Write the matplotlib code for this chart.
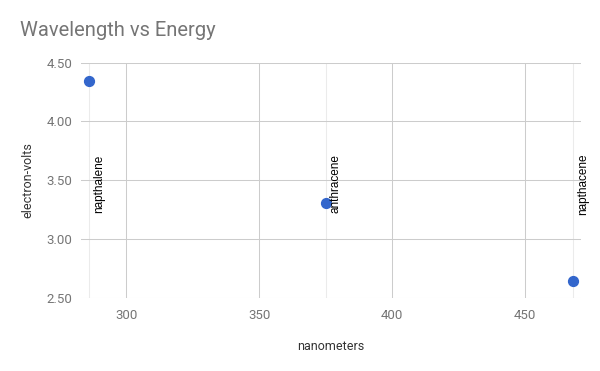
import matplotlib.pyplot as plt

# wavelength (nm) vs energy (eV)
names = ['napthalene', 'anthracene', 'napthacene']
wavelength = [286, 375, 468]
energy = [4.34, 3.31, 2.64]
x_ticks = [300, 350, 400, 450]
y_ticks = [2.50, 3.00, 3.50, 4.00, 4.50]

plt.rcParams['font.family'] = ['Roboto', 'DejaVu Sans']

fig = plt.figure(figsize=(6, 3.71), dpi=100)
ax = fig.add_axes([0.135, 0.1976, 0.833, 0.6334])

ax.set_xlim(283, 471)
ax.set_ylim(2.5, 4.5)
ax.set_xticks(x_ticks)
ax.set_yticks(y_ticks)
ax.set_yticklabels([f'{v:.2f}' for v in y_ticks])

ax.grid(True, color='#cccccc', linewidth=0.75)
ax.set_axisbelow(True)
for x in wavelength:
    ax.axvline(x, color='#ebebeb', linewidth=0.75, zorder=0.5)

for s in ax.spines.values():
    s.set_visible(False)
ax.tick_params(axis='both', length=0, labelsize=9.5, colors='#757575')
ax.tick_params(axis='x', pad=8)
ax.tick_params(axis='y', pad=6)

ax.scatter(wavelength, energy, s=50, color='#3366cc', zorder=3, clip_on=False)

for n, x in zip(names, wavelength):
    ax.annotate(n, xy=(x, 0.484), xycoords=('data', 'axes fraction'),
                xytext=(7.5, 0), textcoords='offset points',
                rotation=90, ha='center', va='center',
                fontsize=8.5, family=['Liberation Sans', 'DejaVu Sans'],
                color='black', annotation_clip=False)

ax.set_xlabel('nanometers', fontsize=9, color='#333333', labelpad=13)
ax.set_ylabel('electron-volts', fontsize=9, color='#333333', labelpad=9)

fig.text(20 / 600, 1 - 31 / 371, 'Wavelength vs Energy', fontsize=14.5,
         color='#757575', ha='left', va='center')

fig.savefig('out.png', dpi=100)
